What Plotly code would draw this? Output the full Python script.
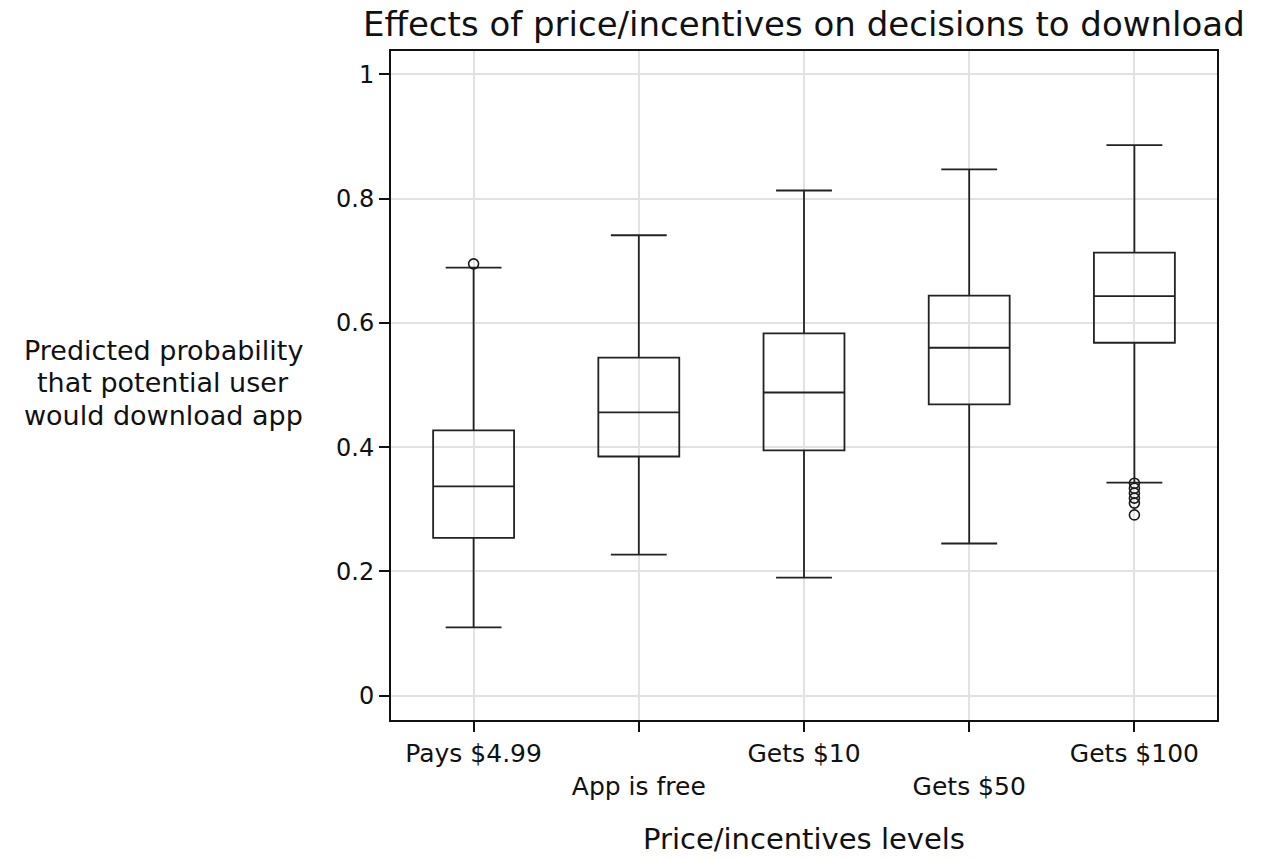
import plotly.graph_objects as go

categories = ["Pays $4.99", "App is free", "Gets $10", "Gets $50", "Gets $100"]
positions = [1, 2, 3, 4, 5]
lowerfence = [0.110, 0.227, 0.190, 0.245, 0.343]
q1 = [0.254, 0.385, 0.395, 0.469, 0.568]
median = [0.337, 0.456, 0.488, 0.560, 0.643]
q3 = [0.427, 0.544, 0.583, 0.644, 0.713]
upperfence = [0.689, 0.741, 0.813, 0.847, 0.886]
outlier_x = [1, 5, 5, 5, 5, 5, 5]
outlier_y = [0.695, 0.342, 0.334, 0.326, 0.318, 0.310, 0.291]
ytick_vals = [0, 0.2, 0.4, 0.6, 0.8, 1]
ytick_text = ["0", "0.2", "0.4", "0.6", "0.8", "1"]
ytitle_lines = ["Predicted probability", "that potential user", "would download app"]

FONT = "DejaVu Sans, Liberation Sans, sans-serif"
INK = "#111"

fig = go.Figure()
fig.add_trace(go.Box(
    x=positions, q1=q1, median=median, q3=q3,
    lowerfence=lowerfence, upperfence=upperfence,
    width=0.49, whiskerwidth=0.69,
    line=dict(color="#222", width=1.8),
    fillcolor="rgba(255,255,255,0)",
    boxpoints=False, showlegend=False, hoverinfo="skip",
))
fig.add_trace(go.Scatter(
    x=outlier_x, y=outlier_y, mode="markers",
    marker=dict(symbol="circle-open", size=10, color="#1a1a1a", line=dict(width=1.6)),
    showlegend=False, hoverinfo="skip",
))

ticktext = [c if i % 2 == 0 else "<br>" + c for i, c in enumerate(categories)]

fig.update_layout(
    width=1261, height=858,
    margin=dict(l=391, r=44, t=51, b=138),
    paper_bgcolor="white", plot_bgcolor="white",
    font=dict(family=FONT, color=INK),
    title=dict(text="Effects of price/incentives on decisions to download",
               x=0.6375, xanchor="center", y=0.972, yanchor="middle",
               font=dict(size=34, color=INK, family=FONT)),
)
fig.update_xaxes(
    range=[0.5, 5.5], tickvals=positions, ticktext=ticktext,
    showgrid=True, gridcolor="#e2e2e2", gridwidth=1.5,
    showline=True, linecolor=INK, linewidth=2, mirror=True,
    ticks="outside", ticklen=10, tickwidth=1.5, tickcolor=INK,
    tickfont=dict(size=25, family=FONT, color=INK),
    zeroline=False,
)
fig.update_yaxes(
    range=[-0.039, 1.0375], tickvals=ytick_vals, ticktext=ytick_text,
    showgrid=True, gridcolor="#e2e2e2", gridwidth=1.5,
    showline=True, linecolor=INK, linewidth=2, mirror=True,
    ticks="outside", ticklen=10, tickwidth=1.5, tickcolor=INK,
    tickfont=dict(size=24, family=FONT, color=INK),
    zeroline=False,
)
for line, yp in zip(ytitle_lines, [0.553, 0.504, 0.455]):
    fig.add_annotation(
        text=line, xref="paper", yref="paper", x=-0.276, y=yp,
        xanchor="center", yanchor="middle", showarrow=False,
        font=dict(size=27, family=FONT, color=INK),
    )
fig.add_annotation(
    text="Price/incentives levels", xref="paper", yref="paper", x=0.5, y=-0.178,
    xanchor="center", yanchor="middle", showarrow=False,
    font=dict(size=29, family=FONT, color=INK),
)

fig.write_html("out.html")
